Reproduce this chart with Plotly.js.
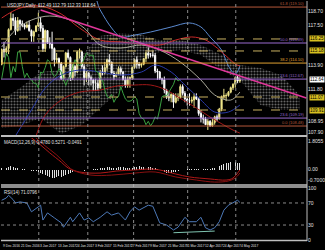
<!DOCTYPE html>
<html><head><meta charset="utf-8">
<script src="https://cdn.plot.ly/plotly-3.0.1.min.js"></script>
<style>html,body{margin:0;padding:0;background:#000;}#c{width:325px;height:250px;}</style>
</head><body><div id="c"></div>
<script>
// ---- data (USDJPY daily) ----
const open=[114.0,115.3,115.1,115.4,117.1,118.1,117.9,117.0,117.9,117.6,
117.5,117.3,117.5,117.0,116.5,116.9,117.4,117.7,117.2,115.4,
117.0,115.9,115.8,115.4,114.4,114.5,114.1,112.7,113.8,115.0,
114.6,112.8,113.8,113.3,115.1,115.1,113.8,112.8,113.2,112.8,
112.6,112.3,112.3,111.9,113.3,113.2,113.7,114.4,114.2,113.2,
112.9,113.1,113.6,113.3,112.6,112.1,112.7,112.8,113.7,114.4,
114.0,113.9,114.0,114.5,115.0,114.8,114.8,114.8,113.4,113.3,
112.7,112.6,111.7,111.1,111.0,111.3,110.6,111.0,111.1,112.0,
111.4,110.9,110.7,110.7,110.8,111.1,110.9,109.6,109.2,109.1,
108.6,108.9,108.5,108.8,109.3,109.1,110.0,111.1,111.2,111.2,
111.5,111.9,112.2,112.8,112.49];
const high=[115.4,116.0,115.6,117.2,118.66,118.5,118.2,118.2,118.0,117.9,
117.6,117.8,117.9,117.1,117.0,117.5,118.6,118.2,117.5,117.1,
117.0,116.4,116.9,115.5,115.0,114.6,114.2,113.9,115.1,115.3,
114.7,114.0,113.9,115.2,115.4,115.2,114.0,113.4,113.3,113.0,
112.7,112.7,112.6,113.5,113.9,114.2,114.5,114.9,114.2,113.4,
113.3,113.8,113.8,113.4,112.9,112.9,112.9,113.8,114.5,114.7,
114.2,114.1,114.5,115.1,115.5,115.0,115.2,115.0,113.6,113.4,
112.8,112.9,111.8,111.5,111.4,111.4,111.4,111.4,112.2,112.2,
111.6,111.0,111.4,111.1,111.4,111.4,111.0,109.9,109.5,109.3,
109.1,109.0,109.1,109.4,109.5,110.1,111.2,111.8,111.4,111.6,
112.0,112.3,112.9,113.0,112.79];
const low=[113.9,114.6,114.8,114.9,117.0,117.4,116.6,116.9,117.0,117.3,
117.1,117.2,116.9,116.0,116.0,116.9,117.3,116.9,115.1,115.1,
115.8,115.4,114.3,113.8,114.1,113.6,112.6,112.5,113.7,114.4,
112.5,112.6,112.9,113.2,114.5,113.6,112.1,112.4,112.1,112.1,
111.6,111.6,111.6,111.8,113.0,113.1,113.4,113.9,113.1,112.6,
112.9,113.0,113.0,112.6,111.9,111.9,111.9,112.6,113.6,113.6,
113.6,113.7,113.9,114.2,114.5,114.6,114.6,113.2,112.6,112.6,
112.2,111.4,110.9,110.7,110.6,110.1,110.5,110.7,110.9,111.2,
110.6,110.3,110.3,110.5,110.1,110.8,109.4,108.8,108.7,108.6,
108.13,108.4,108.4,108.6,108.9,109.1,109.8,110.9,110.7,111.1,
111.4,111.7,111.9,112.3,112.33];
const close=[115.3,115.1,115.4,117.1,118.1,117.9,117.0,117.9,117.6,117.5,
117.3,117.5,117.0,116.5,116.9,117.4,117.7,117.2,115.4,117.0,
115.9,115.8,115.4,114.4,114.5,114.1,112.7,113.8,115.0,114.6,
112.8,113.8,113.3,115.1,115.1,113.8,112.8,113.2,112.8,112.6,
112.3,112.3,111.9,113.3,113.2,113.7,114.4,114.2,113.2,112.9,
113.1,113.6,113.3,112.6,112.1,112.7,112.8,113.7,114.4,114.0,
113.9,114.0,114.5,115.0,114.8,114.8,114.8,113.4,113.3,112.7,
112.6,111.7,111.1,111.0,111.3,110.6,111.0,111.1,112.0,111.4,
110.9,110.7,110.7,110.8,111.1,110.9,109.6,109.2,109.1,108.6,
108.9,108.5,108.8,109.3,109.1,110.0,111.1,111.2,111.2,111.5,
111.9,112.2,112.8,112.5,112.64];
const barIdx = close.map((_, i) => i);

const tickLabels=["9 Dec 2016","21 Dec 2016","3 Jan 2017","13 Jan 2017","24 Jan 2017","3 Feb 2017","15 Feb 2017","27 Feb 2017","9 Mar 2017","21 Mar 2017","31 Mar 2017","12 Apr 2017","24 Apr 2017","4 May 2017"];
const priceTicks=[118.70,117.50,113.90,111.80,108.95,107.90];

// Ichimoku cloud spans (bar index, price)
const cloudIdx=[0,8,17,26,35,43,52,61,69,78,87,96,104,113,122,130];
const spanA=[110.80,111.87,113.30,113.48,114.82,116.51,116.78,116.60,116.16,116.16,115.71,114.82,113.92,113.66,113.03,111.25];
const spanB=[108.30,108.48,109.19,107.76,108.57,110.09,111.69,114.37,115.09,115.26,114.82,113.48,112.59,110.35,109.91,109.91];

// other overlay lines (bar index, price)
const bandUpIdx=[0,39,43,48,52,58,65,74,82,87,91,96,99,102,104];
const bandUp=[121.51,120.44,118.84,117.23,116.43,116.60,116.87,117.32,117.68,117.32,116.43,115.26,113.84,113.12,113.84];
const redUpIdx=[0,8,17,26,34,43,52,61,69,76,83,89,93,98,102,104];
const redUp=[118.12,119.01,119.19,118.48,117.23,116.16,115.98,115.80,115.71,116.16,116.43,116.16,115.62,114.73,114.01,113.84];
const redLowIdx=[15,19,26,34,43,50,58,65,72,77,85,91,97,101,104];
const redLow=[107.59,109.46,110.80,111.51,111.69,112.05,112.14,112.14,111.69,111.07,110.09,109.28,108.57,108.12,107.85];
const navyIdx=[6,13,19,26,34,43,52,61,67,74,80,87,93,99,104];
const navy=[107.59,109.91,111.87,113.03,113.48,113.30,113.03,113.30,113.92,113.30,112.14,110.80,109.73,109.73,110.35];
const greyIdx=[0,6,13,21,30,36,43,52,61,69,78,87,93,100,104];
const greyLine=[115.53,117.05,117.94,118.30,117.94,117.23,115.71,115.44,115.71,115.26,114.19,112.59,111.25,110.80,111.51];
const trendIdx=[17,133];
const trendPrice=[118.84,110.98];

// horizontal levels
const levelPrices=[119.10,116.25,115.89,115.18,114.10,112.67,111.07,109.91,109.19,108.48];
const levelColors=["#b4583a","#c8b060","#9a6ad0","#c8b060","#e0a030","#9a6ad0","#c8b060","#c8b060","#9a6ad0","#b4583a"];
const levelDash=["solid","dash","solid","dash","solid","solid","dash","dash","solid","solid"];
const levelText=["61.8 (119.10)","","50.0 (115.89)","","38.2 (114.10)","23.6 (112.67)","","","23.6 (109.19)","0.0 (108.48)"];
const boxPrices=[116.25,115.18,112.64,111.07,109.91];
const boxColors=["#d8c020","#d8c020","#ffffff","#d8c020","#d8c020"];

// MACD
const macdHist=[0.10,0.12,0.08,0.15,0.20,0.18,0.12,0.10,
0.08,0.05,0.02,-0.03,-0.06,-0.10,-0.12,-0.10,
-0.15,-0.22,-0.30,-0.35,-0.42,-0.48,-0.52,-0.55,-0.50,-0.45,-0.50,-0.42,-0.35,
-0.28,-0.20,-0.15,-0.10,-0.05,-0.02,-0.05,-0.08,-0.06,-0.04,-0.02,0.02,0.04,0.06,0.08,
0.10,0.12,0.15,0.14,0.12,0.10,0.12,0.14,0.15,0.13,0.10,0.08,0.10,0.12,0.15,0.18,0.20,0.18,0.16,0.15,0.17,0.15,0.12,0.10,0.05,
-0.05,-0.12,-0.18,-0.22,-0.24,-0.22,-0.18,-0.15,-0.10,-0.06,-0.04,-0.02,
0.02,0.03,0.02,0.03,0.05,0.04,0.03,0.02,0.03,0.05,0.06,0.08,0.12,
0.18,0.25,0.32,0.38,0.42,0.45,0.48,0.48,0.46,0.44,0.42];
const sigAIdx=[8,12,17,21,26,29,34,43,50,58,65,69,76,82,91,98,101,104];
const sigA=[2.68,2.16,1.58,1.07,0.48,0.10,-0.16,-0.23,-0.10,-0.03,0.03,-0.03,-0.29,-0.48,-0.61,-0.68,-0.55,-0.03];
const sigBIdx=[10,14,19,24,28,31,39,48,58,67,76,85,93,99,102,104];
const sigB=[2.68,2.16,1.52,0.94,0.36,-0.03,-0.36,-0.36,-0.23,-0.16,-0.48,-0.68,-0.81,-0.74,-0.55,-0.23];
const macdTicks=[1.8055,0,-0.70];
const macdTickText=["1.8055","0.00","-0.7000"];

// RSI
const rsiIdx=[0,2,3,5,6,8,11,13,16,17,18,20,23,26,27,29,30,31,34,36,38,40,43,46,48,51,54,56,58,60,64,66,68,69,72,75,77,80,82,85,87,89,91,93,95,97,99,101,103,104];
const rsiVal=[75,79,84,76,70,72,70,54,63,66,39,52,43,34,26,39,44,36,52,39,43,36,44,54,48,52,39,54,63,57,66,64,43,34,30,21,26,44,36,36,44,25,21,25,36,57,66,70,75,71];
const rsiTrendIdx=[75,93];
const rsiTrend=[16,19];
const rsiTicks=[97,70,30,3];
const rsiTickText=["100","70","30","0"];

const gridIdx=[16.2,37.6,57.6,81.2,102.2];

// ---- traces ----
const F="Liberation Sans, Arial, sans-serif";
function line(x,y,color,w,ax,extra){return Object.assign({type:"scatter",mode:"lines",x:x,y:y,xaxis:"x",yaxis:ax||"y",line:{color:color,width:w},hoverinfo:"skip",showlegend:false},extra||{});}
const traces=[];
traces.push(line(cloudIdx,spanB,"rgba(0,0,0,0)",0));
traces.push(line(cloudIdx,spanA,"rgba(0,0,0,0)",0,"y",{fill:"tonexty",fillcolor:"rgba(0,0,0,0)",fillpattern:{shape:".",fgcolor:"#c8c8c8",bgcolor:"rgba(0,0,0,0)",size:3,solidity:0.4,fillmode:"overlay"}}));
traces.push(line(navyIdx,navy,"#2a3aa8",1,"y",{line:{color:"#2a3aa8",width:1,shape:"spline"}}));
traces.push(line(bandUpIdx,bandUp,"#5b8ad0",1,"y",{line:{color:"#5b8ad0",width:1,shape:"spline"}}));
traces.push(line(redUpIdx,redUp,"#c82828",1,"y",{line:{color:"#c82828",width:1,shape:"spline"}}));
traces.push(line(redLowIdx,redLow,"#a01818",1,"y",{line:{color:"#a01818",width:1,shape:"spline"}}));
traces.push(line(greyIdx,greyLine,"#a8a898",1,"y",{line:{color:"#a8a898",width:1,shape:"spline"}}));
traces.push(line(barIdx.slice(26).map(i=>i-26),close.slice(26),"#3aa040",1));
traces.push(line(trendIdx,trendPrice,"#e0369a",1.5));
traces.push({type:"candlestick",x:barIdx,open:open,high:high,low:low,close:close,xaxis:"x",yaxis:"y",
  increasing:{line:{color:"#efe58a",width:1},fillcolor:"#efe58a"},
  decreasing:{line:{color:"#ffffff",width:1},fillcolor:"#ffffff"},
  whiskerwidth:0,hoverinfo:"skip",showlegend:false});
traces.push({type:"bar",x:barIdx,y:macdHist,xaxis:"x",yaxis:"y2",width:0.4,marker:{color:"#e0e0e0",line:{width:0}},hoverinfo:"skip",showlegend:false});
traces.push(line(sigAIdx,sigA,"#b01818",1,"y2",{line:{color:"#b01818",width:1,shape:"spline"}}));
traces.push(line(sigBIdx,sigB,"#8a1010",1,"y2",{line:{color:"#8a1010",width:1,shape:"spline"}}));
traces.push(line(rsiIdx,rsiVal,"#4d79b8",1,"y3"));
traces.push(line(rsiTrendIdx,rsiTrend,"#7fc4b0",1,"y3"));

// ---- shapes ----
const shapes=[];
levelPrices.forEach((p,i)=>shapes.push({type:"line",xref:"paper",x0:0,x1:1,yref:"y",y0:p,y1:p,line:{color:levelColors[i],width:1,dash:levelDash[i]}}));
gridIdx.forEach(g=>shapes.push({type:"line",xref:"x",x0:g,x1:g,yref:"paper",y0:0,y1:1,line:{color:"#8a8a8a",width:1,dash:"dot"}}));
[70,30].forEach(v=>shapes.push({type:"line",xref:"paper",x0:0,x1:1,yref:"y3",y0:v,y1:v,line:{color:"#8a8a8a",width:1,dash:"dot"}}));
const sep="#bdbdbd";
[[0.4375,2],[0.2333,1.5],[0.225,1.5],[0.002,1.5]].forEach(s=>shapes.push({type:"line",xref:"paper",x0:0,x1:1,yref:"paper",y0:s[0],y1:s[0],line:{color:sep,width:s[1]}}));
shapes.push({type:"line",xref:"paper",x0:1,x1:1,yref:"paper",y0:0,y1:1,line:{color:sep,width:1}});

// ---- annotations ----
const ann=[];
const tf={family:F,size:4.5,color:"#e0e0e0"};
ann.push({xref:"paper",yref:"paper",x:0.012,y:0.998,xanchor:"left",yanchor:"top",text:"USDJPY,Daily  112.49 112.79 112.33 112.64",showarrow:false,font:tf});
ann.push({xref:"paper",yref:"paper",x:0.004,y:0.428,xanchor:"left",yanchor:"top",text:"MACD(12,26,9) 0.4780 0.5271 -0.0491",showarrow:false,font:tf});
ann.push({xref:"paper",yref:"paper",x:0.004,y:0.222,xanchor:"left",yanchor:"top",text:"RSI(14) 71.0796",showarrow:false,font:tf});
tickLabels.forEach((t,i)=>ann.push({xref:"x",yref:"paper",x:i*8-0.3,y:0,yshift:-1,xanchor:"left",yanchor:"top",text:t,showarrow:false,font:{family:F,size:3.3,color:"#e0e0e0"}}));
levelPrices.forEach((p,i)=>{if(levelText[i])ann.push({xref:"paper",yref:"y",x:0.996,y:p,xanchor:"right",yanchor:"bottom",yshift:-1,text:levelText[i],showarrow:false,font:{family:F,size:4,color:levelColors[i]}});});
boxPrices.forEach((p,i)=>ann.push({xref:"paper",yref:"y",x:1,xshift:2,y:p,xanchor:"left",yanchor:"middle",text:p.toFixed(2),showarrow:false,bgcolor:boxColors[i],borderpad:0,font:{family:F,size:4.5,color:"#000"}}));

const axBase={side:"right",showgrid:false,zeroline:false,showline:false,ticks:"",tickfont:{family:F,size:5,color:"#e0e0e0"},anchor:"x",fixedrange:true};
const layout={
  width:325,height:250,margin:{l:1,r:18,t:1,b:9},
  paper_bgcolor:"#000",plot_bgcolor:"#000",showlegend:false,dragmode:false,
  xaxis:{domain:[0,1],range:[-0.3,133.3],showgrid:false,zeroline:false,showticklabels:false,ticks:"",rangeslider:{visible:false},fixedrange:true},
  yaxis:Object.assign({},axBase,{domain:[0.4375,1],range:[107.59,119.64],tickvals:priceTicks,ticktext:priceTicks.map(v=>v.toFixed(2))}),
  yaxis2:Object.assign({},axBase,{domain:[0.2333,0.429],range:[-1.0,2.03],tickvals:macdTicks,ticktext:macdTickText}),
  yaxis3:Object.assign({},axBase,{domain:[0,0.225],range:[1,99],tickvals:rsiTicks,ticktext:rsiTickText}),
  shapes:shapes,annotations:ann,bargap:0
};
Plotly.newPlot("c",traces,layout,{staticPlot:true,displayModeBar:false});
</script></body></html>
